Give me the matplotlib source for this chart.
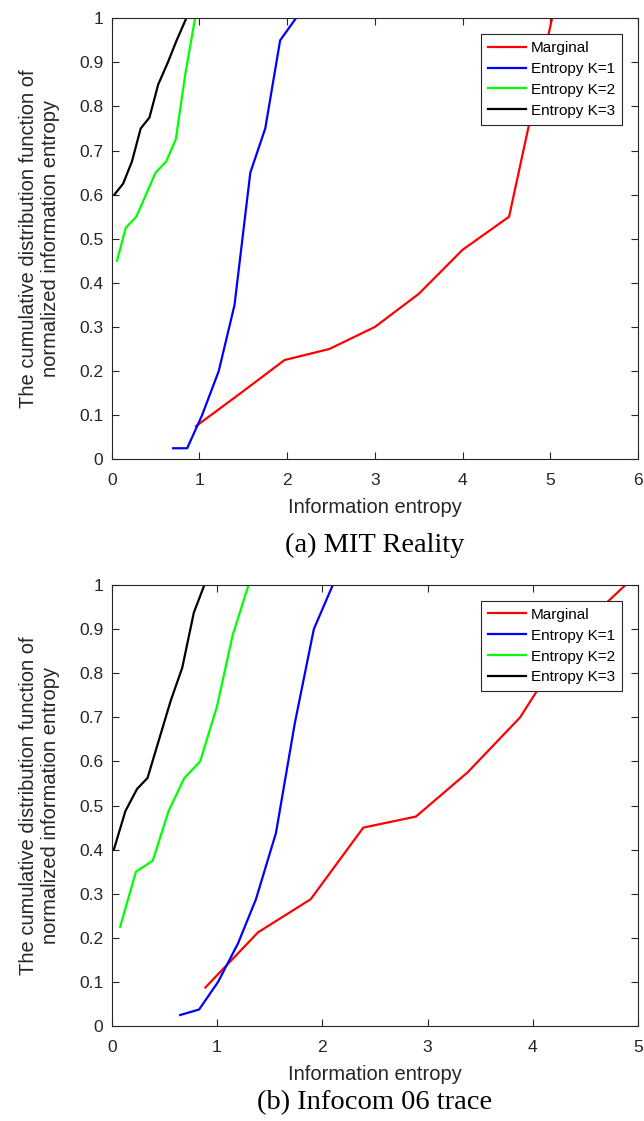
import matplotlib
matplotlib.use("Agg")
import matplotlib.pyplot as plt

plt.rcParams['font.family'] = ['Liberation Sans', 'DejaVu Sans']
plt.rcParams['font.size'] = 11

# (a) MIT Reality
mit_marg_x = [0.96, 1.47, 1.97, 2.48, 3.0, 3.5, 4.0, 4.53, 5.02]
mit_marg_y = [0.075, 0.15, 0.225, 0.25, 0.3, 0.375, 0.475, 0.55, 1.0]
mit_k1_x = [0.70, 0.86, 1.03, 1.22, 1.40, 1.58, 1.75, 1.92, 2.10]
mit_k1_y = [0.025, 0.025, 0.1, 0.2, 0.35, 0.65, 0.75, 0.95, 1.0]
mit_k2_x = [0.06, 0.16, 0.28, 0.50, 0.62, 0.73, 0.84, 0.95]
mit_k2_y = [0.45, 0.525, 0.55, 0.65, 0.675, 0.725, 0.875, 1.0]
mit_k3_x = [0.03, 0.13, 0.23, 0.33, 0.43, 0.53, 0.64, 0.74, 0.85]
mit_k3_y = [0.6, 0.625, 0.675, 0.75, 0.775, 0.85, 0.9, 0.95, 1.0]

# (b) Infocom 06 trace
inf_marg_x = [0.89, 1.39, 1.89, 2.39, 2.89, 3.38, 3.88, 4.38, 4.88]
inf_marg_y = [0.0875, 0.2125, 0.2875, 0.45, 0.475, 0.575, 0.7, 0.8875, 1.0]
inf_k1_x = [0.65, 0.83, 1.01, 1.20, 1.37, 1.56, 1.74, 1.92, 2.10]
inf_k1_y = [0.025, 0.0375, 0.1, 0.1875, 0.2875, 0.4375, 0.6875, 0.9, 1.0]
inf_k2_x = [0.08, 0.23, 0.39, 0.54, 0.69, 0.84, 1.0, 1.15, 1.30]
inf_k2_y = [0.225, 0.35, 0.375, 0.4875, 0.5625, 0.6, 0.725, 0.8875, 1.0]
inf_k3_x = [0.02, 0.13, 0.24, 0.34, 0.45, 0.56, 0.67, 0.78, 0.88]
inf_k3_y = [0.4, 0.4875, 0.5375, 0.5625, 0.65, 0.7375, 0.8125, 0.9375, 1.0]

labels = ['Marginal', 'Entropy K=1', 'Entropy K=2', 'Entropy K=3']
colors = ['#ff0000', '#0000ff', '#00ff00', '#000000']

fig = plt.figure(figsize=(6.44, 11.21), dpi=100)
ax1 = fig.add_axes([0.1735, 0.5903, 0.8172, 0.3934])
ax2 = fig.add_axes([0.1735, 0.0847, 0.8172, 0.3934])

panels = [
    (ax1, [(mit_marg_x, mit_marg_y), (mit_k1_x, mit_k1_y), (mit_k2_x, mit_k2_y), (mit_k3_x, mit_k3_y)], 6, '(a) MIT Reality', -0.195),
    (ax2, [(inf_marg_x, inf_marg_y), (inf_k1_x, inf_k1_y), (inf_k2_x, inf_k2_y), (inf_k3_x, inf_k3_y)], 5, '(b) Infocom 06 trace', -0.174),
]

for ax, series, xmax, caption, cap_y in panels:
    for (xs, ys), lab, c in zip(series, labels, colors):
        ax.plot(xs, ys, color=c, lw=1.6, label=lab)
    ax.set_xlim(0, xmax)
    ax.set_ylim(0, 1)
    ax.set_xticks(range(0, xmax + 1))
    ax.set_yticks([i / 10 for i in range(11)])
    ax.set_yticklabels(['0'] + ['0.%d' % i for i in range(1, 10)] + ['1'])
    ax.tick_params(direction='in', top=True, right=True, length=5, width=0.8,
                   colors='#262626', labelsize=12.5)
    ax.tick_params(axis='y', pad=6)
    ax.tick_params(axis='x', pad=10)
    for sp in ax.spines.values():
        sp.set_color('#262626')
        sp.set_linewidth(0.8)
    ax.set_xlabel('Information entropy', fontsize=14.5, color='#262626', labelpad=7)
    ax.set_ylabel('The cumulative distribution function of\nnormalized information entropy',
                  fontsize=14.5, color='#262626', labelpad=14)
    leg = ax.legend(loc='upper right', bbox_to_anchor=(0.969, 0.964), borderaxespad=0,
                    fontsize=11, handlelength=2.5, handletextpad=0.3, labelspacing=0.45,
                    borderpad=0.45, fancybox=False, framealpha=1)
    leg.get_frame().set_edgecolor('#262626')
    leg.get_frame().set_linewidth(0.8)
    ax.text(0.5, cap_y, caption, transform=ax.transAxes, ha='center', va='center',
            fontsize=20.5, family='Liberation Serif')

fig.savefig('out.png', dpi=100)
